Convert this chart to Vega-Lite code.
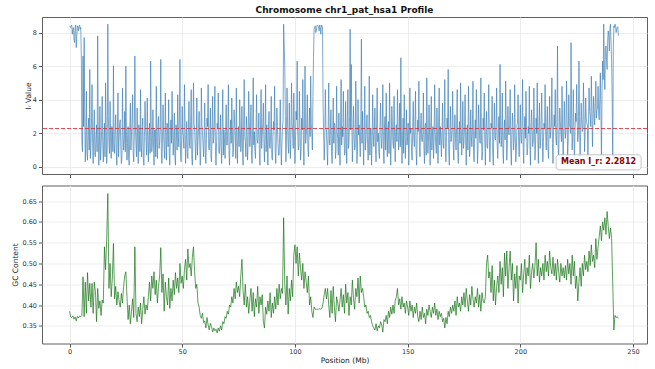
{
"$schema": "https://vega.github.io/schema/vega-lite/v6.json",
"background": "white",
"padding": {"left": 10, "top": 5, "right": 8, "bottom": 2},
"config": {
  "view": {"stroke": "#606060", "strokeWidth": 1},
  "axis": {"domain": false, "grid": true, "gridColor": "#e8e8e8", "gridWidth": 0.8, "tickColor": "#555", "tickSize": 3.5, "labelFont": "DejaVu Sans", "titleFont": "DejaVu Sans", "labelFontSize": 6.5, "titleFontSize": 7.5, "titleFontWeight": "normal", "labelColor": "#333", "titleColor": "#222", "labelPadding": 2, "titlePadding": 3, "labelOverlap": false, "labelFlush": false},
  "concat": {"spacing": 5.5}
},
"data": {"values": [
{"p":0,"r":8.4,"g":0.385},{"p":0.5,"r":8.3,"g":0.372},{"p":1,"r":8.45,"g":0.37},{"p":1.5,"r":8.2,"g":0.374},{"p":2,"r":7.6,"g":0.366},{"p":2.5,"r":8.3,"g":0.371},{"p":3,"r":7.1,"g":0.362},{"p":3.5,"r":8.4,"g":0.373},{"p":4,"r":8.1,"g":0.369},{"p":4.5,"r":8.45,"g":0.374},
{"p":5,"r":8.3,"g":0.372},{"p":5.5,"r":1.5,"g":0.375},{"p":6,"r":6.6,"g":0.468},{"p":6.5,"r":7.7,"g":0.372},{"p":7,"r":0.3,"g":0.455},{"p":7.5,"r":4.5,"g":0.38},{"p":8,"r":0.4,"g":0.478},{"p":8.5,"r":2.9,"g":0.41},{"p":9,"r":5.8,"g":0.452},{"p":9.5,"r":1.2,"g":0.395},
{"p":10,"r":4.9,"g":0.452},{"p":10.5,"r":0.2,"g":0.38},{"p":11,"r":3.4,"g":0.455},{"p":11.5,"r":0.6,"g":0.432},{"p":12,"r":2.5,"g":0.36},{"p":12.5,"r":7.8,"g":0.44},{"p":13,"r":0.1,"g":0.392},{"p":13.5,"r":3.6,"g":0.41},{"p":14,"r":1.1,"g":0.375},{"p":14.5,"r":4.2,"g":0.412},
{"p":15,"r":0.3,"g":0.405},{"p":15.5,"r":2.6,"g":0.54},{"p":16,"r":5.0,"g":0.485},{"p":16.5,"r":0.2,"g":0.56},{"p":17,"r":8.5,"g":0.668},{"p":17.5,"r":1.4,"g":0.44},{"p":18,"r":3.9,"g":0.5},{"p":18.5,"r":0.5,"g":0.42},{"p":19,"r":2.2,"g":0.465},{"p":19.5,"r":6.0,"g":0.548},
{"p":20,"r":0.8,"g":0.415},{"p":20.5,"r":3.1,"g":0.445},{"p":21,"r":0.1,"g":0.4},{"p":21.5,"r":4.4,"g":0.432},{"p":22,"r":1.6,"g":0.41},{"p":22.5,"r":2.8,"g":0.395},{"p":23,"r":0.2,"g":0.428},{"p":23.5,"r":4.7,"g":0.405},{"p":24,"r":1.0,"g":0.445},{"p":24.5,"r":3.3,"g":0.47},
{"p":25,"r":6.0,"g":0.48},{"p":25.5,"r":0.4,"g":0.42},{"p":26,"r":2.4,"g":0.365},{"p":26.5,"r":0.1,"g":0.4},{"p":27,"r":3.8,"g":0.355},{"p":27.5,"r":1.9,"g":0.385},{"p":28,"r":4.3,"g":0.415},{"p":28.5,"r":0.3,"g":0.37},{"p":29,"r":6.6,"g":0.54},{"p":29.5,"r":1.3,"g":0.38},
{"p":30,"r":3.5,"g":0.36},{"p":30.5,"r":0.2,"g":0.395},{"p":31,"r":2.0,"g":0.372},{"p":31.5,"r":4.6,"g":0.405},{"p":32,"r":0.6,"g":0.355},{"p":32.5,"r":2.9,"g":0.39},{"p":33,"r":0.1,"g":0.42},{"p":33.5,"r":3.9,"g":0.378},{"p":34,"r":1.4,"g":0.4},{"p":34.5,"r":4.1,"g":0.388},
{"p":35,"r":0.3,"g":0.42},{"p":35.5,"r":2.6,"g":0.455},{"p":36,"r":6.3,"g":0.41},{"p":36.5,"r":0.9,"g":0.47},{"p":37,"r":3.4,"g":0.44},{"p":37.5,"r":0.1,"g":0.48},{"p":38,"r":2.2,"g":0.425},{"p":38.5,"r":4.8,"g":0.46},{"p":39,"r":0.5,"g":0.405},{"p":39.5,"r":3.0,"g":0.445},
{"p":40,"r":1.5,"g":0.47},{"p":40.5,"r":6.4,"g":0.538},{"p":41,"r":0.2,"g":0.43},{"p":41.5,"r":3.7,"g":0.475},{"p":42,"r":1.0,"g":0.385},{"p":42.5,"r":4.4,"g":0.455},{"p":43,"r":0.4,"g":0.42},{"p":43.5,"r":2.5,"g":0.4},{"p":44,"r":4.0,"g":0.465},{"p":44.5,"r":0.1,"g":0.392},
{"p":45,"r":2.8,"g":0.44},{"p":45.5,"r":4.5,"g":0.41},{"p":46,"r":0.7,"g":0.46},{"p":46.5,"r":3.2,"g":0.425},{"p":47,"r":0.1,"g":0.478},{"p":47.5,"r":2.1,"g":0.44},{"p":48,"r":4.3,"g":0.465},{"p":48.5,"r":1.2,"g":0.43},{"p":49,"r":6.4,"g":0.5},{"p":49.5,"r":0.3,"g":0.452},
{"p":50,"r":3.6,"g":0.47},{"p":50.5,"r":1.8,"g":0.44},{"p":51,"r":4.9,"g":0.485},{"p":51.5,"r":0.2,"g":0.51},{"p":52,"r":2.7,"g":0.46},{"p":52.5,"r":0.5,"g":0.535},{"p":53,"r":3.9,"g":0.49},{"p":53.5,"r":1.1,"g":0.5},{"p":54,"r":4.6,"g":0.47},{"p":54.5,"r":0.1,"g":0.515},
{"p":55,"r":5.0,"g":0.54},{"p":55.5,"r":2.3,"g":0.48},{"p":56,"r":0.4,"g":0.44},{"p":56.5,"r":4.1,"g":0.45},{"p":57,"r":1.5,"g":0.405},{"p":57.5,"r":3.3,"g":0.395},{"p":58,"r":0.1,"g":0.375},{"p":58.5,"r":4.7,"g":0.368},{"p":59,"r":2.0,"g":0.38},{"p":59.5,"r":0.6,"g":0.358},
{"p":60,"r":3.8,"g":0.362},{"p":60.5,"r":0.2,"g":0.345},{"p":61,"r":2.9,"g":0.37},{"p":61.5,"r":4.9,"g":0.352},{"p":62,"r":1.0,"g":0.34},{"p":62.5,"r":3.5,"g":0.356},{"p":63,"r":0.3,"g":0.348},{"p":63.5,"r":4.2,"g":0.335},{"p":64,"r":1.7,"g":0.345},{"p":64.5,"r":4.8,"g":0.338},
{"p":65,"r":0.1,"g":0.342},{"p":65.5,"r":2.6,"g":0.333},{"p":66,"r":4.4,"g":0.345},{"p":66.5,"r":0.8,"g":0.337},{"p":67,"r":3.1,"g":0.35},{"p":67.5,"r":0.2,"g":0.34},{"p":68,"r":4.6,"g":0.36},{"p":68.5,"r":2.2,"g":0.355},{"p":69,"r":0.5,"g":0.372},{"p":69.5,"r":3.7,"g":0.368},
{"p":70,"r":1.3,"g":0.385},{"p":70.5,"r":4.9,"g":0.378},{"p":71,"r":0.1,"g":0.4},{"p":71.5,"r":2.8,"g":0.395},{"p":72,"r":4.1,"g":0.42},{"p":72.5,"r":0.6,"g":0.405},{"p":73,"r":3.4,"g":0.44},{"p":73.5,"r":1.8,"g":0.415},{"p":74,"r":4.7,"g":0.455},{"p":74.5,"r":0.2,"g":0.43},
{"p":75,"r":2.4,"g":0.445},{"p":75.5,"r":4.0,"g":0.42},{"p":76,"r":0.9,"g":0.47},{"p":76.5,"r":3.6,"g":0.51},{"p":77,"r":0.1,"g":0.435},{"p":77.5,"r":5.2,"g":0.4},{"p":78,"r":1.5,"g":0.45},{"p":78.5,"r":3.0,"g":0.395},{"p":79,"r":0.4,"g":0.42},{"p":79.5,"r":4.5,"g":0.38},
{"p":80,"r":1.2,"g":0.41},{"p":80.5,"r":3.7,"g":0.44},{"p":81,"r":0.2,"g":0.385},{"p":81.5,"r":5.3,"g":0.43},{"p":82,"r":2.1,"g":0.372},{"p":82.5,"r":0.5,"g":0.415},{"p":83,"r":4.3,"g":0.395},{"p":83.5,"r":1.4,"g":0.445},{"p":84,"r":3.2,"g":0.38},{"p":84.5,"r":0.1,"g":0.42},
{"p":85,"r":4.6,"g":0.4},{"p":85.5,"r":1.9,"g":0.425},{"p":86,"r":3.8,"g":0.36},{"p":86.5,"r":0.3,"g":0.345},{"p":87,"r":4.9,"g":0.395},{"p":87.5,"r":2.5,"g":0.378},{"p":88,"r":0.1,"g":0.41},{"p":88.5,"r":3.3,"g":0.385},{"p":89,"r":1.1,"g":0.43},{"p":89.5,"r":4.2,"g":0.37},
{"p":90,"r":0.4,"g":0.405},{"p":90.5,"r":2.7,"g":0.38},{"p":91,"r":4.8,"g":0.42},{"p":91.5,"r":0.2,"g":0.39},{"p":92,"r":3.5,"g":0.44},{"p":92.5,"r":1.4,"g":0.4},{"p":93,"r":0.7,"g":0.45},{"p":93.5,"r":4.0,"g":0.415},{"p":94,"r":0.1,"g":0.44},{"p":94.5,"r":2.3,"g":0.428},
{"p":95,"r":8.5,"g":0.61},{"p":95.5,"r":6.0,"g":0.45},{"p":96,"r":0.3,"g":0.4},{"p":96.5,"r":4.7,"g":0.47},{"p":97,"r":1.2,"g":0.378},{"p":97.5,"r":3.8,"g":0.44},{"p":98,"r":0.5,"g":0.41},{"p":98.5,"r":5.0,"g":0.46},{"p":99,"r":2.1,"g":0.42},{"p":99.5,"r":4.4,"g":0.52},
{"p":100,"r":0.2,"g":0.545},{"p":100.5,"r":3.3,"g":0.5},{"p":101,"r":6.3,"g":0.54},{"p":101.5,"r":1.0,"g":0.47},{"p":102,"r":4.5,"g":0.525},{"p":102.5,"r":0.4,"g":0.49},{"p":103,"r":2.9,"g":0.46},{"p":103.5,"r":5.2,"g":0.5},{"p":104,"r":0.1,"g":0.44},{"p":104.5,"r":6.0,"g":0.48},
{"p":105,"r":1.8,"g":0.455},{"p":105.5,"r":4.3,"g":0.43},{"p":106,"r":0.6,"g":0.47},{"p":106.5,"r":3.5,"g":0.4},{"p":107,"r":5.4,"g":0.42},{"p":107.5,"r":2.0,"g":0.385},{"p":108,"r":4.2,"g":0.37},{"p":108.5,"r":8.2,"g":0.395},{"p":109,"r":8.4,"g":0.39},{"p":109.5,"r":8.1,"g":0.39},
{"p":110,"r":8.45,"g":0.39},{"p":110.5,"r":8.3,"g":0.39},{"p":111,"r":8.45,"g":0.391},{"p":111.5,"r":7.9,"g":0.39},{"p":112,"r":8.4,"g":0.392},{"p":112.5,"r":3.7,"g":0.405},{"p":113,"r":0.4,"g":0.425},{"p":113.5,"r":4.6,"g":0.44},{"p":114,"r":2.2,"g":0.415},{"p":114.5,"r":0.1,"g":0.44},
{"p":115,"r":5.0,"g":0.4},{"p":115.5,"r":1.3,"g":0.37},{"p":116,"r":3.4,"g":0.435},{"p":116.5,"r":0.2,"g":0.38},{"p":117,"r":4.1,"g":0.445},{"p":117.5,"r":2.6,"g":0.395},{"p":118,"r":0.5,"g":0.36},{"p":118.5,"r":4.8,"g":0.42},{"p":119,"r":1.7,"g":0.405},{"p":119.5,"r":3.2,"g":0.385},
{"p":120,"r":0.1,"g":0.41},{"p":120.5,"r":5.2,"g":0.44},{"p":121,"r":2.4,"g":0.395},{"p":121.5,"r":4.5,"g":0.425},{"p":122,"r":0.7,"g":0.38},{"p":122.5,"r":3.9,"g":0.45},{"p":123,"r":0.2,"g":0.405},{"p":123.5,"r":4.6,"g":0.43},{"p":124,"r":1.5,"g":0.375},{"p":124.5,"r":8.2,"g":0.42},
{"p":125,"r":6.1,"g":0.4},{"p":125.5,"r":0.3,"g":0.46},{"p":126,"r":3.6,"g":0.415},{"p":126.5,"r":1.0,"g":0.39},{"p":127,"r":5.1,"g":0.44},{"p":127.5,"r":0.2,"g":0.42},{"p":128,"r":4.0,"g":0.465},{"p":128.5,"r":2.5,"g":0.405},{"p":129,"r":0.6,"g":0.47},{"p":129.5,"r":7.6,"g":0.43},
{"p":130,"r":3.3,"g":0.44},{"p":130.5,"r":0.1,"g":0.42},{"p":131,"r":4.8,"g":0.395},{"p":131.5,"r":1.6,"g":0.4},{"p":132,"r":3.1,"g":0.38},{"p":132.5,"r":0.4,"g":0.385},{"p":133,"r":5.4,"g":0.37},{"p":133.5,"r":2.2,"g":0.375},{"p":134,"r":0.1,"g":0.36},{"p":134.5,"r":4.3,"g":0.35},
{"p":135,"r":1.2,"g":0.345},{"p":135.5,"r":3.5,"g":0.34},{"p":136,"r":0.3,"g":0.355},{"p":136.5,"r":4.7,"g":0.338},{"p":137,"r":2.0,"g":0.35},{"p":137.5,"r":0.5,"g":0.345},{"p":138,"r":3.8,"g":0.36},{"p":138.5,"r":1.1,"g":0.352},{"p":139,"r":4.9,"g":0.335},{"p":139.5,"r":0.2,"g":0.365},
{"p":140,"r":3.0,"g":0.36},{"p":140.5,"r":4.4,"g":0.375},{"p":141,"r":0.6,"g":0.355},{"p":141.5,"r":2.7,"g":0.385},{"p":142,"r":5.0,"g":0.37},{"p":142.5,"r":0.1,"g":0.395},{"p":143,"r":3.6,"g":0.378},{"p":143.5,"r":1.4,"g":0.4},{"p":144,"r":4.2,"g":0.38},{"p":144.5,"r":0.3,"g":0.41},
{"p":145,"r":2.5,"g":0.42},{"p":145.5,"r":4.6,"g":0.44},{"p":146,"r":1.0,"g":0.4},{"p":146.5,"r":3.8,"g":0.415},{"p":147,"r":6.5,"g":0.39},{"p":147.5,"r":0.2,"g":0.42},{"p":148,"r":2.9,"g":0.395},{"p":148.5,"r":4.3,"g":0.405},{"p":149,"r":0.5,"g":0.38},{"p":149.5,"r":3.4,"g":0.41},
{"p":150,"r":1.8,"g":0.395},{"p":150.5,"r":0.1,"g":0.375},{"p":151,"r":4.7,"g":0.41},{"p":151.5,"r":2.3,"g":0.385},{"p":152,"r":0.4,"g":0.4},{"p":152.5,"r":3.9,"g":0.37},{"p":153,"r":1.2,"g":0.395},{"p":153.5,"r":4.5,"g":0.38},{"p":154,"r":0.1,"g":0.405},{"p":154.5,"r":2.8,"g":0.372},
{"p":155,"r":5.1,"g":0.36},{"p":155.5,"r":0.6,"g":0.385},{"p":156,"r":3.2,"g":0.365},{"p":156.5,"r":1.5,"g":0.395},{"p":157,"r":4.4,"g":0.37},{"p":157.5,"r":0.2,"g":0.38},{"p":158,"r":2.6,"g":0.355},{"p":158.5,"r":5.3,"g":0.39},{"p":159,"r":0.8,"g":0.375},{"p":159.5,"r":3.7,"g":0.4},
{"p":160,"r":0.1,"g":0.385},{"p":160.5,"r":4.2,"g":0.37},{"p":161,"r":2.0,"g":0.395},{"p":161.5,"r":0.5,"g":0.38},{"p":162,"r":4.9,"g":0.405},{"p":162.5,"r":1.3,"g":0.375},{"p":163,"r":3.5,"g":0.39},{"p":163.5,"r":0.2,"g":0.365},{"p":164,"r":4.7,"g":0.385},{"p":164.5,"r":2.4,"g":0.372},
{"p":165,"r":0.6,"g":0.38},{"p":165.5,"r":3.8,"g":0.36},{"p":166,"r":1.1,"g":0.368},{"p":166.5,"r":5.2,"g":0.345},{"p":167,"r":0.3,"g":0.37},{"p":167.5,"r":2.9,"g":0.355},{"p":168,"r":5.8,"g":0.385},{"p":168.5,"r":0.1,"g":0.372},{"p":169,"r":3.6,"g":0.395},{"p":169.5,"r":1.7,"g":0.38},
{"p":170,"r":4.5,"g":0.4},{"p":170.5,"r":0.4,"g":0.385},{"p":171,"r":3.1,"g":0.41},{"p":171.5,"r":1.0,"g":0.375},{"p":172,"r":4.6,"g":0.42},{"p":172.5,"r":0.2,"g":0.395},{"p":173,"r":2.7,"g":0.405},{"p":173.5,"r":5.0,"g":0.385},{"p":174,"r":0.7,"g":0.42},{"p":174.5,"r":3.9,"g":0.4},
{"p":175,"r":1.4,"g":0.43},{"p":175.5,"r":4.3,"g":0.395},{"p":176,"r":0.1,"g":0.44},{"p":176.5,"r":2.5,"g":0.41},{"p":177,"r":4.8,"g":0.385},{"p":177.5,"r":0.6,"g":0.425},{"p":178,"r":3.4,"g":0.4},{"p":178.5,"r":1.2,"g":0.445},{"p":179,"r":5.1,"g":0.415},{"p":179.5,"r":0.3,"g":0.395},
{"p":180,"r":2.8,"g":0.42},{"p":180.5,"r":4.6,"g":0.405},{"p":181,"r":0.2,"g":0.44},{"p":181.5,"r":3.7,"g":0.395},{"p":182,"r":1.5,"g":0.425},{"p":182.5,"r":5.3,"g":0.385},{"p":183,"r":0.4,"g":0.43},{"p":183.5,"r":2.9,"g":0.41},{"p":184,"r":4.4,"g":0.405},{"p":184.5,"r":0.1,"g":0.42},
{"p":185,"r":3.3,"g":0.5},{"p":185.5,"r":1.1,"g":0.52},{"p":186,"r":4.9,"g":0.465},{"p":186.5,"r":0.3,"g":0.48},{"p":187,"r":2.6,"g":0.43},{"p":187.5,"r":4.2,"g":0.495},{"p":188,"r":0.1,"g":0.41},{"p":188.5,"r":3.8,"g":0.46},{"p":189,"r":1.6,"g":0.4},{"p":189.5,"r":4.7,"g":0.445},
{"p":190,"r":0.5,"g":0.47},{"p":190.5,"r":3.0,"g":0.43},{"p":191,"r":6.1,"g":0.505},{"p":191.5,"r":1.2,"g":0.45},{"p":192,"r":4.4,"g":0.49},{"p":192.5,"r":0.2,"g":0.42},{"p":193,"r":2.8,"g":0.525},{"p":193.5,"r":5.1,"g":0.47},{"p":194,"r":0.4,"g":0.53},{"p":194.5,"r":3.6,"g":0.44},
{"p":195,"r":1.9,"g":0.49},{"p":195.5,"r":4.6,"g":0.53},{"p":196,"r":0.1,"g":0.46},{"p":196.5,"r":3.2,"g":0.5},{"p":197,"r":1.0,"g":0.41},{"p":197.5,"r":4.9,"g":0.475},{"p":198,"r":0.3,"g":0.44},{"p":198.5,"r":2.5,"g":0.495},{"p":199,"r":4.3,"g":0.405},{"p":199.5,"r":0.6,"g":0.47},
{"p":200,"r":3.7,"g":0.46},{"p":200.5,"r":1.4,"g":0.5},{"p":201,"r":5.2,"g":0.43},{"p":201.5,"r":0.2,"g":0.475},{"p":202,"r":3.0,"g":0.51},{"p":202.5,"r":4.5,"g":0.45},{"p":203,"r":0.7,"g":0.49},{"p":203.5,"r":2.4,"g":0.47},{"p":204,"r":4.8,"g":0.52},{"p":204.5,"r":0.1,"g":0.44},
{"p":205,"r":3.4,"g":0.48},{"p":205.5,"r":1.2,"g":0.5},{"p":206,"r":4.7,"g":0.465},{"p":206.5,"r":0.4,"g":0.495},{"p":207,"r":2.9,"g":0.55},{"p":207.5,"r":5.0,"g":0.47},{"p":208,"r":0.2,"g":0.51},{"p":208.5,"r":3.8,"g":0.455},{"p":209,"r":1.5,"g":0.49},{"p":209.5,"r":4.4,"g":0.47},
{"p":210,"r":0.3,"g":0.5},{"p":210.5,"r":2.6,"g":0.46},{"p":211,"r":4.9,"g":0.52},{"p":211.5,"r":1.0,"g":0.48},{"p":212,"r":3.6,"g":0.505},{"p":212.5,"r":0.5,"g":0.47},{"p":213,"r":4.2,"g":0.53},{"p":213.5,"r":2.1,"g":0.49},{"p":214,"r":5.3,"g":0.475},{"p":214.5,"r":0.2,"g":0.515},
{"p":215,"r":3.1,"g":0.47},{"p":215.5,"r":4.6,"g":0.5},{"p":216,"r":1.3,"g":0.46},{"p":216.5,"r":7.2,"g":0.51},{"p":217,"r":0.4,"g":0.48},{"p":217.5,"r":3.5,"g":0.455},{"p":218,"r":2.0,"g":0.5},{"p":218.5,"r":4.8,"g":0.47},{"p":219,"r":0.1,"g":0.49},{"p":219.5,"r":3.9,"g":0.465},
{"p":220,"r":1.7,"g":0.495},{"p":220.5,"r":5.1,"g":0.46},{"p":221,"r":0.6,"g":0.51},{"p":221.5,"r":4.3,"g":0.475},{"p":222,"r":2.4,"g":0.5},{"p":222.5,"r":7.4,"g":0.45},{"p":223,"r":1.0,"g":0.52},{"p":223.5,"r":4.6,"g":0.47},{"p":224,"r":0.3,"g":0.505},{"p":224.5,"r":3.2,"g":0.44},
{"p":225,"r":4.9,"g":0.47},{"p":225.5,"r":1.5,"g":0.41},{"p":226,"r":6.3,"g":0.455},{"p":226.5,"r":0.5,"g":0.49},{"p":227,"r":3.8,"g":0.445},{"p":227.5,"r":2.1,"g":0.5},{"p":228,"r":5.0,"g":0.47},{"p":228.5,"r":0.9,"g":0.52},{"p":229,"r":4.1,"g":0.485},{"p":229.5,"r":2.6,"g":0.505},
{"p":230,"r":0.4,"g":0.48},{"p":230.5,"r":4.7,"g":0.53},{"p":231,"r":3.0,"g":0.495},{"p":231.5,"r":5.4,"g":0.545},{"p":232,"r":1.2,"g":0.505},{"p":232.5,"r":4.2,"g":0.52},{"p":233,"r":2.5,"g":0.49},{"p":233.5,"r":5.1,"g":0.56},{"p":234,"r":3.4,"g":0.51},{"p":234.5,"r":4.8,"g":0.54},
{"p":235,"r":2.8,"g":0.565},{"p":235.5,"r":5.6,"g":0.59},{"p":236,"r":0.1,"g":0.555},{"p":236.5,"r":6.3,"g":0.6},{"p":237,"r":8.5,"g":0.58},{"p":237.5,"r":4.6,"g":0.61},{"p":238,"r":7.2,"g":0.57},{"p":238.5,"r":5.8,"g":0.625},{"p":239,"r":8.1,"g":0.59},{"p":239.5,"r":6.9,"g":0.56},
{"p":240,"r":8.5,"g":0.585},{"p":240.5,"r":6.2,"g":0.56},{"p":241,"r":0.2,"g":0.45},{"p":241.5,"r":8.4,"g":0.34},{"p":242,"r":8.5,"g":0.375},{"p":242.5,"r":8.0,"g":0.37},{"p":243,"r":8.3,"g":0.372},{"p":243.5,"r":7.8,"g":0.368},
{"p":0.25,"r":8.35},{"p":0.75,"r":8.4},{"p":1.25,"r":7.9},{"p":1.75,"r":8.3},{"p":2.25,"r":7.4},{"p":2.75,"r":8.45},{"p":3.25,"r":7.8},{"p":3.75,"r":8.3},{"p":4.25,"r":8.4},{"p":4.75,"r":8.2},
{"p":5.25,"r":6.5},{"p":5.75,"r":0.9},{"p":6.25,"r":2.4},{"p":6.75,"r":3.1},{"p":7.25,"r":1.6},{"p":7.75,"r":0.8},{"p":8.25,"r":2.2},{"p":8.75,"r":1.0},{"p":9.25,"r":0.5},{"p":9.75,"r":2.6},
{"p":10.25,"r":1.4},{"p":10.75,"r":2.0},{"p":11.25,"r":0.7},{"p":11.75,"r":1.9},{"p":12.25,"r":0.9},{"p":12.75,"r":2.3},{"p":13.25,"r":1.2},{"p":13.75,"r":0.4},{"p":14.25,"r":2.1},{"p":14.75,"r":1.5},
{"p":15.25,"r":1.8},{"p":15.75,"r":0.6},{"p":16.25,"r":2.5},{"p":16.75,"r":1.1},{"p":17.25,"r":3.0},{"p":17.75,"r":0.8},{"p":18.25,"r":1.6},{"p":18.75,"r":2.4},{"p":19.25,"r":0.9},{"p":19.75,"r":1.3},
{"p":20.25,"r":2.2},{"p":20.75,"r":1.0},{"p":21.25,"r":1.9},{"p":21.75,"r":0.6},{"p":22.25,"r":2.6},{"p":22.75,"r":1.3},{"p":23.25,"r":0.5},{"p":23.75,"r":2.0},{"p":24.25,"r":1.7},{"p":24.75,"r":0.9},
{"p":25.25,"r":2.1},{"p":25.75,"r":1.4},{"p":26.25,"r":0.5},{"p":26.75,"r":2.3},{"p":27.25,"r":1.0},{"p":27.75,"r":2.7},{"p":28.25,"r":0.8},{"p":28.75,"r":1.9},{"p":29.25,"r":2.4},{"p":29.75,"r":0.6},
{"p":30.25,"r":1.6},{"p":30.75,"r":2.5},{"p":31.25,"r":0.9},{"p":31.75,"r":1.2},{"p":32.25,"r":2.2},{"p":32.75,"r":0.5},{"p":33.25,"r":1.8},{"p":33.75,"r":2.6},{"p":34.25,"r":0.7},{"p":34.75,"r":1.5},
{"p":35.25,"r":1.9},{"p":35.75,"r":0.8},{"p":36.25,"r":2.4},{"p":36.75,"r":1.3},{"p":37.25,"r":1.7},{"p":37.75,"r":2.2},{"p":38.25,"r":0.6},{"p":38.75,"r":1.4},{"p":39.25,"r":2.5},{"p":39.75,"r":1.1},
{"p":40.25,"r":2.3},{"p":40.75,"r":0.9},{"p":41.25,"r":1.6},{"p":41.75,"r":2.0},{"p":42.25,"r":0.5},{"p":42.75,"r":1.8},{"p":43.25,"r":2.6},{"p":43.75,"r":1.2},{"p":44.25,"r":0.8},{"p":44.75,"r":2.1},
{"p":45.25,"r":1.4},{"p":45.75,"r":2.2},{"p":46.25,"r":1.7},{"p":46.75,"r":0.6},{"p":47.25,"r":2.5},{"p":47.75,"r":1.0},{"p":48.25,"r":1.9},{"p":48.75,"r":2.8},{"p":49.25,"r":0.9},{"p":49.75,"r":1.6},
{"p":50.25,"r":2.0},{"p":50.75,"r":1.1},{"p":51.25,"r":2.4},{"p":51.75,"r":1.5},{"p":52.25,"r":0.8},{"p":52.75,"r":2.2},{"p":53.25,"r":1.3},{"p":53.75,"r":2.7},{"p":54.25,"r":0.6},{"p":54.75,"r":1.8},
{"p":55.25,"r":2.6},{"p":55.75,"r":1.2},{"p":56.25,"r":2.0},{"p":56.75,"r":0.7},{"p":57.25,"r":2.3},{"p":57.75,"r":1.6},{"p":58.25,"r":1.0},{"p":58.75,"r":2.5},{"p":59.25,"r":1.3},{"p":59.75,"r":1.9},
{"p":60.25,"r":0.8},{"p":60.75,"r":1.7},{"p":61.25,"r":2.4},{"p":61.75,"r":1.1},{"p":62.25,"r":2.0},{"p":62.75,"r":0.6},{"p":63.25,"r":2.2},{"p":63.75,"r":1.4},{"p":64.25,"r":2.6},{"p":64.75,"r":1.0},
{"p":65.25,"r":1.5},{"p":65.75,"r":2.3},{"p":66.25,"r":0.9},{"p":66.75,"r":1.8},{"p":67.25,"r":1.2},{"p":67.75,"r":2.5},{"p":68.25,"r":0.7},{"p":68.75,"r":1.6},{"p":69.25,"r":2.1},{"p":69.75,"r":1.3},
{"p":70.25,"r":2.4},{"p":70.75,"r":0.8},{"p":71.25,"r":1.9},{"p":71.75,"r":1.4},{"p":72.25,"r":2.2},{"p":72.75,"r":1.0},{"p":73.25,"r":2.6},{"p":73.75,"r":0.5},{"p":74.25,"r":1.7},{"p":74.75,"r":2.0},
{"p":75.25,"r":1.2},{"p":75.75,"r":2.5},{"p":76.25,"r":1.6},{"p":76.75,"r":0.9},{"p":77.25,"r":2.3},{"p":77.75,"r":1.8},{"p":78.25,"r":0.6},{"p":78.75,"r":2.1},{"p":79.25,"r":1.4},{"p":79.75,"r":2.7},
{"p":80.25,"r":1.9},{"p":80.75,"r":0.7},{"p":81.25,"r":2.4},{"p":81.75,"r":1.3},{"p":82.25,"r":1.0},{"p":82.75,"r":2.2},{"p":83.25,"r":1.6},{"p":83.75,"r":2.0},{"p":84.25,"r":0.8},{"p":84.75,"r":2.5},
{"p":85.25,"r":1.1},{"p":85.75,"r":2.6},{"p":86.25,"r":1.5},{"p":86.75,"r":2.1},{"p":87.25,"r":0.9},{"p":87.75,"r":1.7},{"p":88.25,"r":2.3},{"p":88.75,"r":1.2},{"p":89.25,"r":2.0},{"p":89.75,"r":0.6},
{"p":90.25,"r":1.8},{"p":90.75,"r":2.2},{"p":91.25,"r":1.0},{"p":91.75,"r":1.6},{"p":92.25,"r":2.4},{"p":92.75,"r":0.7},{"p":93.25,"r":2.0},{"p":93.75,"r":1.3},{"p":94.25,"r":1.5},{"p":94.75,"r":2.8},
{"p":95.25,"r":7.2},{"p":95.75,"r":3.0},{"p":96.25,"r":1.9},{"p":96.75,"r":2.5},{"p":97.25,"r":0.8},{"p":97.75,"r":2.1},{"p":98.25,"r":1.7},{"p":98.75,"r":2.6},{"p":99.25,"r":1.1},{"p":99.75,"r":2.3},
{"p":100.25,"r":1.5},{"p":100.75,"r":2.8},{"p":101.25,"r":2.0},{"p":101.75,"r":1.3},{"p":102.25,"r":2.4},{"p":102.75,"r":1.0},{"p":103.25,"r":2.2},{"p":103.75,"r":1.6},{"p":104.25,"r":2.9},{"p":104.75,"r":1.4},
{"p":105.25,"r":2.5},{"p":105.75,"r":1.2},{"p":106.25,"r":2.1},{"p":106.75,"r":1.8},{"p":107.25,"r":2.6},{"p":107.75,"r":1.0},{"p":108.25,"r":6.5},{"p":108.75,"r":8.3},{"p":109.25,"r":8.0},{"p":109.75,"r":8.35},
{"p":110.25,"r":8.4},{"p":110.75,"r":8.1},{"p":111.25,"r":8.3},{"p":111.75,"r":8.45},{"p":112.25,"r":8.3},{"p":112.75,"r":2.0},{"p":113.25,"r":1.5},{"p":113.75,"r":2.4},{"p":114.25,"r":1.1},{"p":114.75,"r":2.2},
{"p":115.25,"r":1.6},{"p":115.75,"r":2.3},{"p":116.25,"r":0.9},{"p":116.75,"r":1.9},{"p":117.25,"r":1.4},{"p":117.75,"r":2.5},{"p":118.25,"r":1.0},{"p":118.75,"r":2.1},{"p":119.25,"r":0.7},{"p":119.75,"r":1.8},
{"p":120.25,"r":2.4},{"p":120.75,"r":1.3},{"p":121.25,"r":1.8},{"p":121.75,"r":2.2},{"p":122.25,"r":0.8},{"p":122.75,"r":1.6},{"p":123.25,"r":2.6},{"p":123.75,"r":1.1},{"p":124.25,"r":3.0},{"p":124.75,"r":2.2},
{"p":125.25,"r":2.6},{"p":125.75,"r":1.7},{"p":126.25,"r":2.0},{"p":126.75,"r":1.2},{"p":127.25,"r":2.4},{"p":127.75,"r":0.9},{"p":128.25,"r":1.9},{"p":128.75,"r":1.5},{"p":129.25,"r":2.8},{"p":129.75,"r":1.4},
{"p":130.25,"r":1.7},{"p":130.75,"r":2.2},{"p":131.25,"r":1.0},{"p":131.75,"r":2.5},{"p":132.25,"r":1.3},{"p":132.75,"r":1.9},{"p":133.25,"r":0.7},{"p":133.75,"r":2.3},{"p":134.25,"r":1.6},{"p":134.75,"r":2.0},
{"p":135.25,"r":2.2},{"p":135.75,"r":1.1},{"p":136.25,"r":2.6},{"p":136.75,"r":1.5},{"p":137.25,"r":0.9},{"p":137.75,"r":2.4},{"p":138.25,"r":1.7},{"p":138.75,"r":2.0},{"p":139.25,"r":1.2},{"p":139.75,"r":2.5},
{"p":140.25,"r":1.0},{"p":140.75,"r":1.9},{"p":141.25,"r":2.3},{"p":141.75,"r":0.8},{"p":142.25,"r":2.0},{"p":142.75,"r":1.6},{"p":143.25,"r":2.5},{"p":143.75,"r":1.1},{"p":144.25,"r":1.8},{"p":144.75,"r":2.2},
{"p":145.25,"r":1.5},{"p":145.75,"r":2.4},{"p":146.25,"r":1.8},{"p":146.75,"r":1.2},{"p":147.25,"r":2.1},{"p":147.75,"r":1.6},{"p":148.25,"r":0.8},{"p":148.75,"r":2.3},{"p":149.25,"r":1.9},{"p":149.75,"r":1.3},
{"p":150.25,"r":2.6},{"p":150.75,"r":1.4},{"p":151.25,"r":2.0},{"p":151.75,"r":0.9},{"p":152.25,"r":2.2},{"p":152.75,"r":1.7},{"p":153.25,"r":2.4},{"p":153.75,"r":1.0},{"p":154.25,"r":1.8},{"p":154.75,"r":2.1},
{"p":155.25,"r":1.2},{"p":155.75,"r":2.3},{"p":156.25,"r":1.6},{"p":156.75,"r":2.0},{"p":157.25,"r":1.1},{"p":157.75,"r":2.5},{"p":158.25,"r":0.7},{"p":158.75,"r":2.2},{"p":159.25,"r":1.5},{"p":159.75,"r":1.9},
{"p":160.25,"r":2.2},{"p":160.75,"r":1.0},{"p":161.25,"r":2.4},{"p":161.75,"r":1.6},{"p":162.25,"r":2.1},{"p":162.75,"r":0.8},{"p":163.25,"r":1.9},{"p":163.75,"r":2.5},{"p":164.25,"r":1.3},{"p":164.75,"r":1.7},
{"p":165.25,"r":2.0},{"p":165.75,"r":1.4},{"p":166.25,"r":2.6},{"p":166.75,"r":1.1},{"p":167.25,"r":1.8},{"p":167.75,"r":2.3},{"p":168.25,"r":0.9},{"p":168.75,"r":2.1},{"p":169.25,"r":1.5},{"p":169.75,"r":2.4},
{"p":170.25,"r":1.3},{"p":170.75,"r":2.2},{"p":171.25,"r":1.7},{"p":171.75,"r":2.5},{"p":172.25,"r":0.9},{"p":172.75,"r":2.0},{"p":173.25,"r":1.4},{"p":173.75,"r":2.3},{"p":174.25,"r":1.8},{"p":174.75,"r":1.1},
{"p":175.25,"r":2.4},{"p":175.75,"r":1.6},{"p":176.25,"r":2.1},{"p":176.75,"r":1.0},{"p":177.25,"r":2.6},{"p":177.75,"r":1.3},{"p":178.25,"r":1.9},{"p":178.75,"r":2.2},{"p":179.25,"r":0.8},{"p":179.75,"r":2.0},
{"p":180.25,"r":1.7},{"p":180.75,"r":2.3},{"p":181.25,"r":1.1},{"p":181.75,"r":2.5},{"p":182.25,"r":1.4},{"p":182.75,"r":2.0},{"p":183.25,"r":0.9},{"p":183.75,"r":2.2},{"p":184.25,"r":1.6},{"p":184.75,"r":2.4},
{"p":185.25,"r":1.2},{"p":185.75,"r":2.6},{"p":186.25,"r":1.8},{"p":186.75,"r":1.5},{"p":187.25,"r":2.3},{"p":187.75,"r":1.0},{"p":188.25,"r":2.1},{"p":188.75,"r":1.7},{"p":189.25,"r":2.5},{"p":189.75,"r":1.3},
{"p":190.25,"r":2.0},{"p":190.75,"r":1.4},{"p":191.25,"r":2.4},{"p":191.75,"r":1.9},{"p":192.25,"r":1.1},{"p":192.75,"r":2.2},{"p":193.25,"r":1.6},{"p":193.75,"r":2.7},{"p":194.25,"r":1.3},{"p":194.75,"r":2.1},
{"p":195.25,"r":2.5},{"p":195.75,"r":1.2},{"p":196.25,"r":1.9},{"p":196.75,"r":2.3},{"p":197.25,"r":1.6},{"p":197.75,"r":2.0},{"p":198.25,"r":1.0},{"p":198.75,"r":2.6},{"p":199.25,"r":1.5},{"p":199.75,"r":2.2},
{"p":200.25,"r":1.8},{"p":200.75,"r":2.4},{"p":201.25,"r":1.3},{"p":201.75,"r":2.1},{"p":202.25,"r":1.7},{"p":202.75,"r":2.6},{"p":203.25,"r":1.1},{"p":203.75,"r":2.0},{"p":204.25,"r":1.5},{"p":204.75,"r":2.3},
{"p":205.25,"r":2.2},{"p":205.75,"r":1.6},{"p":206.25,"r":2.5},{"p":206.75,"r":1.3},{"p":207.25,"r":2.0},{"p":207.75,"r":1.8},{"p":208.25,"r":2.4},{"p":208.75,"r":1.1},{"p":209.25,"r":2.7},{"p":209.75,"r":1.9},
{"p":210.25,"r":1.5},{"p":210.75,"r":2.3},{"p":211.25,"r":1.9},{"p":211.75,"r":2.6},{"p":212.25,"r":1.2},{"p":212.75,"r":2.1},{"p":213.25,"r":1.7},{"p":213.75,"r":2.5},{"p":214.25,"r":1.4},{"p":214.75,"r":2.2},
{"p":215.25,"r":2.4},{"p":215.75,"r":1.8},{"p":216.25,"r":2.6},{"p":216.75,"r":1.3},{"p":217.25,"r":2.1},{"p":217.75,"r":2.7},{"p":218.25,"r":1.5},{"p":218.75,"r":2.3},{"p":219.25,"r":1.9},{"p":219.75,"r":2.5},
{"p":220.25,"r":2.2},{"p":220.75,"r":2.8},{"p":221.25,"r":1.6},{"p":221.75,"r":2.5},{"p":222.25,"r":2.0},{"p":222.75,"r":2.9},{"p":223.25,"r":1.8},{"p":223.75,"r":2.4},{"p":224.25,"r":2.1},{"p":224.75,"r":2.7},
{"p":225.25,"r":2.6},{"p":225.75,"r":2.0},{"p":226.25,"r":3.0},{"p":226.75,"r":1.9},{"p":227.25,"r":2.8},{"p":227.75,"r":2.3},{"p":228.25,"r":3.2},{"p":228.75,"r":2.1},{"p":229.25,"r":2.9},{"p":229.75,"r":2.5},
{"p":230.25,"r":2.8},{"p":230.75,"r":3.3},{"p":231.25,"r":2.4},{"p":231.75,"r":3.6},{"p":232.25,"r":2.7},{"p":232.75,"r":3.1},{"p":233.25,"r":3.8},{"p":233.75,"r":2.9},{"p":234.25,"r":3.5},{"p":234.75,"r":3.2},
{"p":235.25,"r":4.0},{"p":235.75,"r":3.4},{"p":236.25,"r":4.5},{"p":236.75,"r":5.2},{"p":237.25,"r":6.0},{"p":237.75,"r":7.0},{"p":238.25,"r":6.4},{"p":238.75,"r":7.5},{"p":239.25,"r":7.8},{"p":239.75,"r":8.2},
{"p":240.25,"r":7.5},{"p":240.75,"r":4.0},{"p":241.25,"r":7.0},{"p":241.75,"r":8.3},{"p":242.25,"r":8.45},{"p":242.75,"r":8.2},{"p":243.25,"r":8.35}
]},
"vconcat": [
  {
    "width": 605, "height": 157,
    "title": {"text": "Chromosome chr1_pat_hsa1 Profile", "font": "DejaVu Sans", "fontSize": 9, "fontWeight": "bold", "color": "#111", "anchor": "middle", "frame": "group", "offset": 2},
    "layer": [
      {
        "mark": {"type": "line", "color": "#3f7fb5", "strokeWidth": 0.8, "opacity": 0.85},
        "encoding": {
          "x": {"field": "p", "type": "quantitative", "scale": {"domain": [-12.2, 256.2], "nice": false, "zero": false}, "axis": {"labels": false, "title": null, "values": [0, 50, 100, 150, 200, 250]}},
          "y": {"field": "r", "type": "quantitative", "scale": {"domain": [-0.425, 8.925], "nice": false, "zero": false}, "axis": {"values": [0, 2, 4, 6, 8], "labelOverlap": false, "title": "Iᵣ Value", "titleX": -10}}
        }
      },
      {
        "data": {"values": [{"m": 2.2812}]},
        "mark": {"type": "rule", "color": "#e0303a", "strokeDash": [4, 2], "strokeWidth": 0.9},
        "encoding": {"y": {"field": "m", "type": "quantitative", "axis": {"values": [0, 2, 4, 6, 8], "labelOverlap": false, "title": "Iᵣ Value", "titleX": -10}}}
      },
      {
        "data": {"values": [{"t": "Mean I_r: 2.2812"}]},
        "mark": {"type": "rect", "fill": "white", "stroke": "#b0b0b0", "strokeWidth": 0.8, "cornerRadius": 3, "opacity": 0.9},
        "encoding": {
          "x": {"datum": 215.9, "type": "quantitative", "axis": {"labels": false, "title": null, "values": [0, 50, 100, 150, 200, 250]}},
          "x2": {"datum": 253.6},
          "y": {"datum": 0.72, "type": "quantitative", "axis": {"values": [0, 2, 4, 6, 8], "labelOverlap": false, "title": "Iᵣ Value", "titleX": -10}},
          "y2": {"datum": -0.18}
        }
      },
      {
        "data": {"values": [{"t": "Mean I_r: 2.2812"}]},
        "mark": {"type": "text", "font": "DejaVu Sans", "fontSize": 8, "fontWeight": "bold", "color": "#8b0000", "align": "center", "baseline": "middle"},
        "encoding": {
          "x": {"datum": 234.7, "type": "quantitative", "axis": {"labels": false, "title": null, "values": [0, 50, 100, 150, 200, 250]}},
          "y": {"datum": 0.27, "type": "quantitative", "axis": {"values": [0, 2, 4, 6, 8], "labelOverlap": false, "title": "Iᵣ Value", "titleX": -10}},
          "text": {"field": "t"}
        }
      }
    ]
  },
  {
    "width": 605, "height": 158,
    "transform": [{"filter": "isValid(datum.g)"}],
    "mark": {"type": "line", "color": "#107010", "strokeWidth": 0.8, "opacity": 0.85},
    "encoding": {
      "x": {"field": "p", "type": "quantitative", "scale": {"domain": [-12.2, 256.2], "nice": false, "zero": false}, "axis": {"values": [0, 50, 100, 150, 200, 250], "title": "Position (Mb)", "labelPadding": 1, "titlePadding": 1, "titleY": 12.5}},
      "y": {"field": "g", "type": "quantitative", "scale": {"domain": [0.3075, 0.6875], "nice": false, "zero": false}, "axis": {"values": [0.35, 0.4, 0.45, 0.5, 0.55, 0.6, 0.65], "format": ".2f", "title": "GC Content", "titleX": -23}}
    }
  }
]
}
